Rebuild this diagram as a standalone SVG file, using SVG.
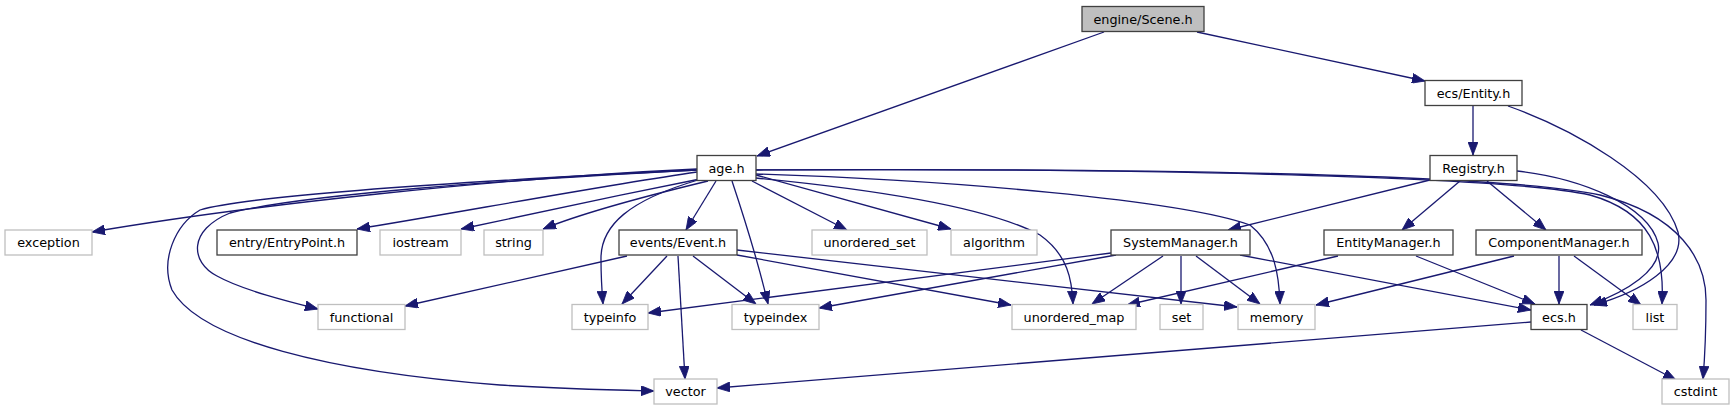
<svg xmlns="http://www.w3.org/2000/svg" width="1734" height="411" viewBox="0 0 1734 411">
<style>
.n rect{fill:#ffffff;stroke:#404040;stroke-width:1.3}
.x rect{fill:#ffffff;stroke:#bfbfbf;stroke-width:1.3}
.r rect{fill:#bfbfbf;stroke:#404040;stroke-width:1.3}
text{font-family:"DejaVu Sans","Liberation Sans",sans-serif;font-size:12.8px;fill:#000000;text-anchor:middle}
.e path{fill:none;stroke:#191970;stroke-width:1.3;marker-end:url(#ah)}
</style>
<defs>
<marker id="ah" viewBox="0 0 13 10" refX="13" refY="5" markerWidth="13" markerHeight="10" markerUnits="userSpaceOnUse" orient="auto">
<path d="M0,0 L13,5 L0,10 z" fill="#191970" stroke="#191970" stroke-width="0.8"/>
</marker>
</defs>
<rect width="1734" height="411" fill="#ffffff"/>
<g id="edges" class="e">
<path d="M1104,32 L757,156"/>
<path d="M1197,32 L1425,81"/>
<path d="M1473,106 L1473,155"/>
<path d="M1508,106 C1570,128 1662,178 1678,232 C1686,265 1640,292 1594,305"/>
<path d="M697,169 C500,178 250,205 92,232"/>
<path d="M697,172 C600,186 450,214 357,229"/>
<path d="M700,179 C620,195 530,214 461,229"/>
<path d="M708,181 C650,195 580,214 543,229"/>
<path d="M716,181 L686,230"/>
<path d="M752,181 L847,230"/>
<path d="M756,175 L951,229"/>
<path d="M698,180 C630,200 600,225 601,260 C601,280 602,292 603,304"/>
<path d="M732,181 C745,220 760,270 768,304"/>
<path d="M756,178 C880,190 990,208 1040,235 C1068,255 1072,280 1073,304"/>
<path d="M756,174 C950,180 1180,200 1250,225 C1275,245 1279,275 1280,304"/>
<path d="M756,170 C1100,168 1500,175 1590,195 C1650,212 1665,250 1662,304"/>
<path d="M756,170 C1100,168 1500,173 1600,195 C1680,215 1706,260 1706,300 C1706,330 1705,355 1703,379"/>
<path d="M697,170 C500,180 300,195 230,213 C188,230 190,262 217,276 C242,290 290,302 318,309"/>
<path d="M697,170 C450,182 250,195 200,210 C175,225 160,260 172,290 C200,340 330,372 500,385 C560,389 610,390 654,391"/>
<path d="M627,256 L405,306"/>
<path d="M667,256 L622,304"/>
<path d="M678,256 L685,379"/>
<path d="M693,256 L756,304"/>
<path d="M737,255 L1011,305"/>
<path d="M737,250 L1237,307"/>
<path d="M1111,253 L648,313"/>
<path d="M1116,255 L819,308"/>
<path d="M1163,256 L1092,304"/>
<path d="M1181,256 L1181,304"/>
<path d="M1196,256 L1260,304"/>
<path d="M1240,255 L1531,310"/>
<path d="M1338,256 L1127,305"/>
<path d="M1416,256 L1535,304"/>
<path d="M1514,256 L1316,305"/>
<path d="M1559,256 L1559,304"/>
<path d="M1574,256 L1641,305"/>
<path d="M1430,180 L1228,230"/>
<path d="M1460,181 L1402,230"/>
<path d="M1487,181 L1546,230"/>
<path d="M1517,171 C1580,178 1648,205 1658,243 C1664,270 1625,292 1590,305"/>
<path d="M1531,322 L717,388"/>
<path d="M1581,330 L1676,380"/>
</g>
<g id="node-scene" class="r"><rect x="1082" y="6.5" width="122" height="25"/><text x="1143" y="23.5">engine/Scene.h</text></g>
<g id="node-age" class="n"><rect x="697" y="155.5" width="59" height="25"/><text x="726.5" y="172.5">age.h</text></g>
<g id="node-entity" class="n"><rect x="1425" y="80.5" width="97" height="25"/><text x="1473.5" y="97.5">ecs/Entity.h</text></g>
<g id="node-registry" class="n"><rect x="1430" y="155.5" width="87" height="25"/><text x="1473.5" y="172.5">Registry.h</text></g>
<g id="node-exception" class="x"><rect x="5" y="230" width="87" height="25"/><text x="48.5" y="247">exception</text></g>
<g id="node-entrypoint" class="n"><rect x="217" y="230" width="140" height="25"/><text x="287" y="247">entry/EntryPoint.h</text></g>
<g id="node-iostream" class="x"><rect x="380" y="230" width="81" height="25"/><text x="420.5" y="247">iostream</text></g>
<g id="node-string" class="x"><rect x="484" y="230" width="59" height="25"/><text x="513.5" y="247">string</text></g>
<g id="node-event" class="n"><rect x="619" y="230" width="118" height="25"/><text x="678" y="247">events/Event.h</text></g>
<g id="node-unordered_set" class="x"><rect x="812" y="230" width="115" height="25"/><text x="869.5" y="247">unordered_set</text></g>
<g id="node-algorithm" class="x"><rect x="951" y="230" width="86" height="25"/><text x="994" y="247">algorithm</text></g>
<g id="node-systemmanager" class="n"><rect x="1111" y="230" width="139" height="25"/><text x="1180.5" y="247">SystemManager.h</text></g>
<g id="node-entitymanager" class="n"><rect x="1324" y="230" width="129" height="25"/><text x="1388.5" y="247">EntityManager.h</text></g>
<g id="node-componentmanager" class="n"><rect x="1476" y="230" width="166" height="25"/><text x="1559" y="247">ComponentManager.h</text></g>
<g id="node-functional" class="x"><rect x="318" y="304.5" width="87" height="25"/><text x="361.5" y="321.5">functional</text></g>
<g id="node-typeinfo" class="x"><rect x="572" y="304.5" width="76" height="25"/><text x="610" y="321.5">typeinfo</text></g>
<g id="node-typeindex" class="x"><rect x="732" y="304.5" width="87" height="25"/><text x="775.5" y="321.5">typeindex</text></g>
<g id="node-unordered_map" class="x"><rect x="1012" y="304.5" width="124" height="25"/><text x="1074" y="321.5">unordered_map</text></g>
<g id="node-set" class="x"><rect x="1160" y="304.5" width="43" height="25"/><text x="1181.5" y="321.5">set</text></g>
<g id="node-memory" class="x"><rect x="1238" y="304.5" width="77" height="25"/><text x="1276.5" y="321.5">memory</text></g>
<g id="node-ecs" class="n"><rect x="1531" y="304.5" width="56" height="25"/><text x="1559" y="321.5">ecs.h</text></g>
<g id="node-list" class="x"><rect x="1633" y="304.5" width="44" height="25"/><text x="1655" y="321.5">list</text></g>
<g id="node-vector" class="x"><rect x="654" y="379" width="63" height="25"/><text x="685.5" y="396">vector</text></g>
<g id="node-cstdint" class="x"><rect x="1662" y="379" width="67" height="25"/><text x="1695.5" y="396">cstdint</text></g>
</svg>
